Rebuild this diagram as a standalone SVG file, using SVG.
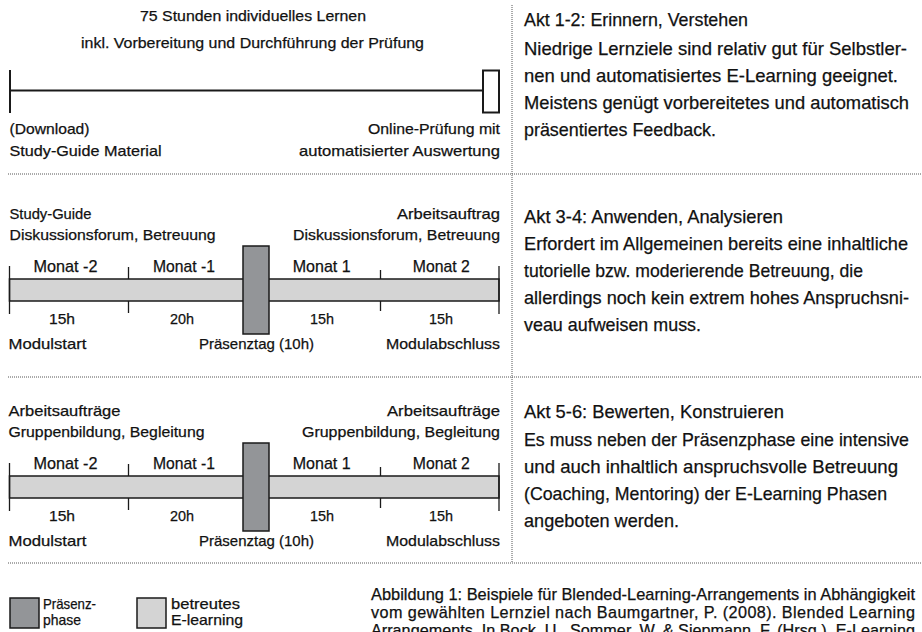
<svg xmlns="http://www.w3.org/2000/svg" width="922" height="632" viewBox="0 0 922 632">
<defs>
<style>
text{font-family:"Liberation Sans Narrow","Liberation Sans",Arial,sans-serif;fill:#111;stroke:#111;stroke-width:0.25}
.s{font-size:15px}
.m{font-size:17px}
.r{font-size:18.5px}
.c{font-size:16.2px}
.l{font-size:14.5px}
.mid{text-anchor:middle}
.end{text-anchor:end}
.tl{stroke:#1a1a1a;stroke-width:2;fill:none}
.bar{fill:#d4d4d4;stroke:#1a1a1a;stroke-width:1.5}
.pr{fill:#939598;stroke:#1a1a1a;stroke-width:1.5}
.tick{stroke:#1a1a1a;stroke-width:1.3}
.dot{stroke:#555;stroke-width:1;stroke-dasharray:1 1;fill:none}
</style>
</defs>
<rect width="922" height="632" fill="#fff"/>

<g id="separators">
<line class="dot" x1="512" y1="5" x2="512" y2="563"/>
<line class="dot" x1="8" y1="174" x2="922" y2="174"/>
<line class="dot" x1="8" y1="377" x2="922" y2="377"/>
<line class="dot" x1="8" y1="563" x2="922" y2="563"/>
</g>

<g id="timeline1">
<text class="s mid" x="253" y="21" textLength="226" lengthAdjust="spacingAndGlyphs">75 Stunden individuelles Lernen</text>
<text class="s mid" x="252.5" y="47.5" textLength="343" lengthAdjust="spacingAndGlyphs">inkl. Vorbereitung und Durchführung der Prüfung</text>
<line class="tl" x1="10" y1="70" x2="10" y2="113"/>
<line class="tl" x1="10" y1="90.5" x2="483" y2="90.5"/>
<rect class="tl" x="483" y="70.5" width="16" height="42"/>
<text class="s" x="9.5" y="133.5" textLength="80" lengthAdjust="spacingAndGlyphs">(Download)</text>
<text class="s" x="9.5" y="155.5" textLength="152" lengthAdjust="spacingAndGlyphs">Study-Guide Material</text>
<text class="s end" x="500" y="133.5" textLength="132" lengthAdjust="spacingAndGlyphs">Online-Prüfung mit</text>
<text class="s end" x="500" y="155.5" textLength="201" lengthAdjust="spacingAndGlyphs">automatisierter Auswertung</text>
</g>

<g id="text1">
<text class="r" x="524" y="26" textLength="224" lengthAdjust="spacingAndGlyphs">Akt 1-2: Erinnern, Verstehen</text>
<text class="r" x="524" y="54.5" textLength="383" lengthAdjust="spacingAndGlyphs">Niedrige Lernziele sind relativ gut für Selbstler-</text>
<text class="r" x="524" y="81.5" textLength="374" lengthAdjust="spacingAndGlyphs">nen und automatisiertes E-Learning geeignet.</text>
<text class="r" x="524" y="108.5" textLength="385" lengthAdjust="spacingAndGlyphs">Meistens genügt vorbereitetes und automatisch</text>
<text class="r" x="524" y="135.5" textLength="192" lengthAdjust="spacingAndGlyphs">präsentiertes Feedback.</text>
</g>

<g id="timeline2">
<text class="s" x="9.5" y="218.5" textLength="82" lengthAdjust="spacingAndGlyphs">Study-Guide</text>
<text class="s" x="9.5" y="240" textLength="206" lengthAdjust="spacingAndGlyphs">Diskussionsforum, Betreuung</text>
<text class="s end" x="500" y="218.5" textLength="103" lengthAdjust="spacingAndGlyphs">Arbeitsauftrag</text>
<text class="s end" x="500" y="240" textLength="207" lengthAdjust="spacingAndGlyphs">Diskussionsforum, Betreuung</text>
<text class="m mid" x="65.5" y="272" textLength="64" lengthAdjust="spacingAndGlyphs">Monat -2</text>
<text class="m mid" x="184" y="272" textLength="62" lengthAdjust="spacingAndGlyphs">Monat -1</text>
<text class="m mid" x="321.7" y="272" textLength="58" lengthAdjust="spacingAndGlyphs">Monat 1</text>
<text class="m mid" x="441.3" y="272" textLength="57" lengthAdjust="spacingAndGlyphs">Monat 2</text>
<rect class="bar" x="9.5" y="279" width="489.5" height="22"/>
<line class="tick" x1="9.5" y1="266" x2="9.5" y2="314"/>
<line class="tick" x1="128.5" y1="267" x2="128.5" y2="279"/>
<line class="tick" x1="128.5" y1="301" x2="128.5" y2="313"/>
<line class="tick" x1="380.5" y1="270" x2="380.5" y2="279"/>
<line class="tick" x1="380.5" y1="301" x2="380.5" y2="311"/>
<line class="tick" x1="499" y1="266" x2="499" y2="314"/>
<rect class="pr" x="243" y="246" width="26" height="88"/>
<text class="s mid" x="62" y="323.5" textLength="26" lengthAdjust="spacingAndGlyphs">15h</text>
<text class="s mid" x="182" y="323.5" textLength="24" lengthAdjust="spacingAndGlyphs">20h</text>
<text class="s mid" x="322" y="323.5" textLength="24" lengthAdjust="spacingAndGlyphs">15h</text>
<text class="s mid" x="441" y="323.5" textLength="24" lengthAdjust="spacingAndGlyphs">15h</text>
<text class="s" x="8.5" y="349" textLength="78" lengthAdjust="spacingAndGlyphs">Modulstart</text>
<text class="s mid" x="256.5" y="349" textLength="115" lengthAdjust="spacingAndGlyphs">Präsenztag (10h)</text>
<text class="s end" x="500" y="349" textLength="114" lengthAdjust="spacingAndGlyphs">Modulabschluss</text>
</g>

<g id="text2">
<text class="r" x="524" y="222.5" textLength="259" lengthAdjust="spacingAndGlyphs">Akt 3-4: Anwenden, Analysieren</text>
<text class="r" x="524" y="250" textLength="384" lengthAdjust="spacingAndGlyphs">Erfordert im Allgemeinen bereits eine inhaltliche</text>
<text class="r" x="524" y="277" textLength="339" lengthAdjust="spacingAndGlyphs">tutorielle bzw. moderierende Betreuung, die</text>
<text class="r" x="524" y="304" textLength="385" lengthAdjust="spacingAndGlyphs">allerdings noch kein extrem hohes Anspruchsni-</text>
<text class="r" x="524" y="331" textLength="177" lengthAdjust="spacingAndGlyphs">veau aufweisen muss.</text>
</g>

<g id="timeline3">
<text class="s" x="8.5" y="415.5" textLength="112" lengthAdjust="spacingAndGlyphs">Arbeitsaufträge</text>
<text class="s" x="8.5" y="437" textLength="196" lengthAdjust="spacingAndGlyphs">Gruppenbildung, Begleitung</text>
<text class="s end" x="500" y="415.5" textLength="113" lengthAdjust="spacingAndGlyphs">Arbeitsaufträge</text>
<text class="s end" x="500" y="437" textLength="198" lengthAdjust="spacingAndGlyphs">Gruppenbildung, Begleitung</text>
<text class="m mid" x="65.5" y="469" textLength="64" lengthAdjust="spacingAndGlyphs">Monat -2</text>
<text class="m mid" x="184" y="469" textLength="62" lengthAdjust="spacingAndGlyphs">Monat -1</text>
<text class="m mid" x="321.7" y="469" textLength="58" lengthAdjust="spacingAndGlyphs">Monat 1</text>
<text class="m mid" x="441.3" y="469" textLength="57" lengthAdjust="spacingAndGlyphs">Monat 2</text>
<rect class="bar" x="9.5" y="476" width="489.5" height="22"/>
<line class="tick" x1="9.5" y1="463" x2="9.5" y2="511"/>
<line class="tick" x1="128.5" y1="464" x2="128.5" y2="476"/>
<line class="tick" x1="128.5" y1="498" x2="128.5" y2="510"/>
<line class="tick" x1="380.5" y1="467" x2="380.5" y2="476"/>
<line class="tick" x1="380.5" y1="498" x2="380.5" y2="508"/>
<line class="tick" x1="499" y1="463" x2="499" y2="511"/>
<rect class="pr" x="243" y="443" width="26" height="88"/>
<text class="s mid" x="62" y="520.5" textLength="26" lengthAdjust="spacingAndGlyphs">15h</text>
<text class="s mid" x="182" y="520.5" textLength="24" lengthAdjust="spacingAndGlyphs">20h</text>
<text class="s mid" x="322" y="520.5" textLength="24" lengthAdjust="spacingAndGlyphs">15h</text>
<text class="s mid" x="441" y="520.5" textLength="24" lengthAdjust="spacingAndGlyphs">15h</text>
<text class="s" x="8.5" y="546" textLength="78" lengthAdjust="spacingAndGlyphs">Modulstart</text>
<text class="s mid" x="256.5" y="546" textLength="115" lengthAdjust="spacingAndGlyphs">Präsenztag (10h)</text>
<text class="s end" x="500" y="546" textLength="114" lengthAdjust="spacingAndGlyphs">Modulabschluss</text>
</g>

<g id="text3">
<text class="r" x="524" y="418" textLength="260" lengthAdjust="spacingAndGlyphs">Akt 5-6: Bewerten, Konstruieren</text>
<text class="r" x="524" y="446" textLength="385" lengthAdjust="spacingAndGlyphs" style="font-size:17.8px">Es muss neben der Präsenzphase eine intensive</text>
<text class="r" x="524" y="473" textLength="374" lengthAdjust="spacingAndGlyphs">und auch inhaltlich anspruchsvolle Betreuung</text>
<text class="r" x="524" y="500" textLength="363" lengthAdjust="spacingAndGlyphs">(Coaching, Mentoring) der E-Learning Phasen</text>
<text class="r" x="524" y="527" textLength="155" lengthAdjust="spacingAndGlyphs">angeboten werden.</text>
</g>

<g id="legend">
<rect class="pr" x="10" y="598" width="29" height="30"/>
<text class="l" x="43" y="609" textLength="53" lengthAdjust="spacingAndGlyphs">Präsenz-</text>
<text class="l" x="43" y="625" textLength="38" lengthAdjust="spacingAndGlyphs">phase</text>
<rect class="bar" x="137" y="598" width="29" height="30"/>
<text class="l" x="171" y="609" textLength="69" lengthAdjust="spacingAndGlyphs">betreutes</text>
<text class="l" x="171" y="625" textLength="72" lengthAdjust="spacingAndGlyphs">E-learning</text>
</g>

<g id="caption">
<text class="c" x="371" y="600" textLength="544" lengthAdjust="spacingAndGlyphs">Abbildung 1: Beispiele für Blended-Learning-Arrangements in Abhängigkeit</text>
<text class="c" x="371" y="618" textLength="544" lengthAdjust="spacing">vom gewählten Lernziel nach Baumgartner, P. (2008). Blended Learning</text>
<text class="c" x="371" y="636" textLength="544" lengthAdjust="spacingAndGlyphs">Arrangements. In Bock, U., Sommer, W. &amp; Siepmann, F. (Hrsg.), E-Learning</text>
</g>
</svg>
